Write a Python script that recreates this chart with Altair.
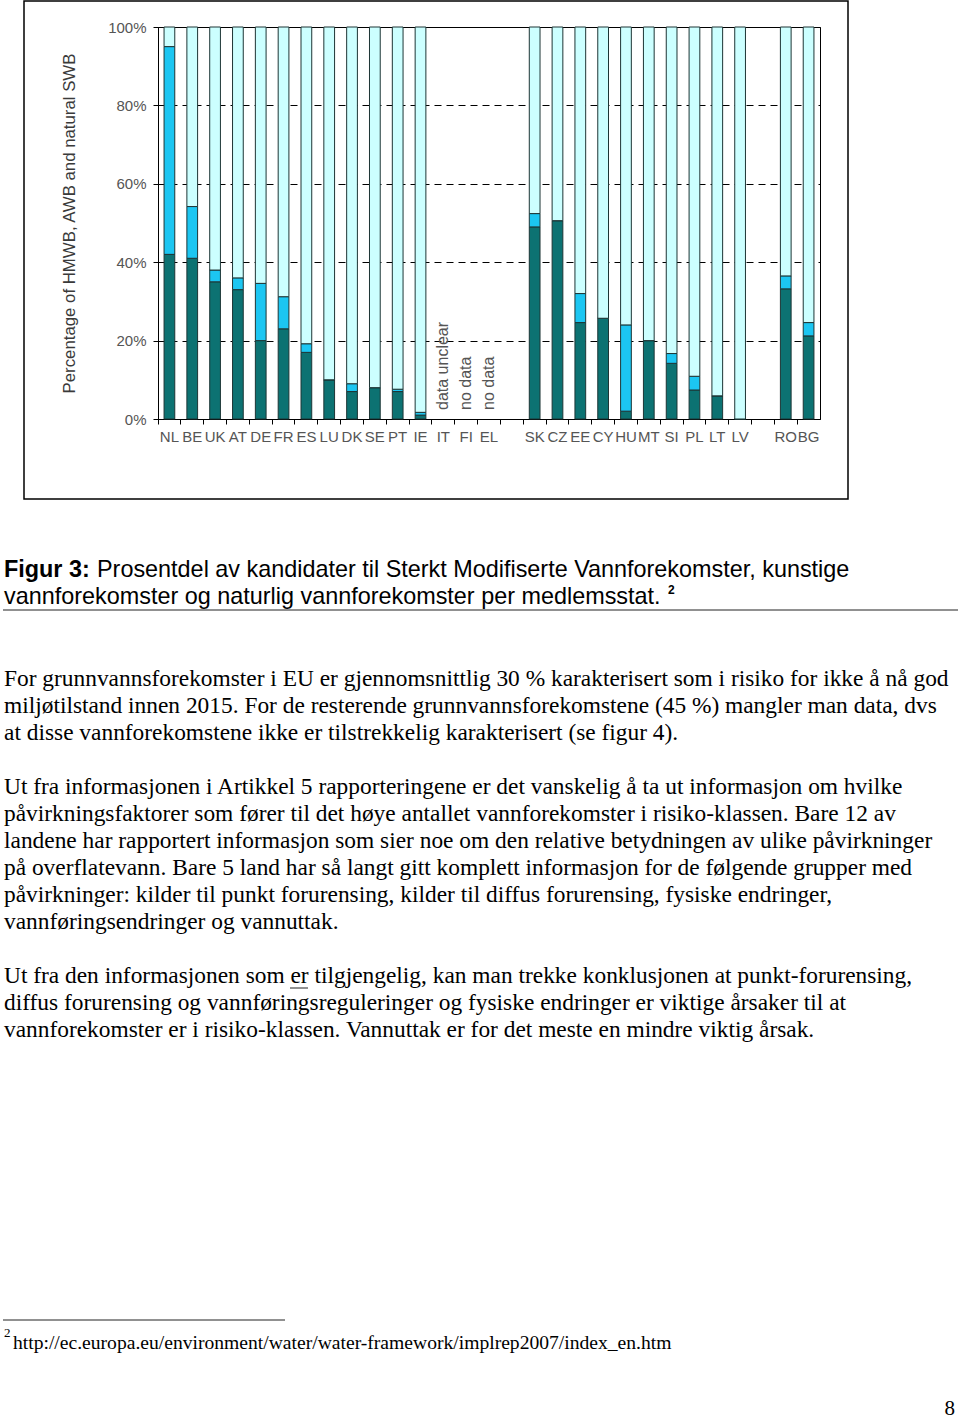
import altair as alt
import pandas as pd

# ---------------- data ----------------
countries = ["NL", "BE", "UK", "AT", "DE", "FR", "ES", "LU", "DK", "SE", "PT", "IE",
             "IT", "FI", "EL", "gap1",
             "SK", "CZ", "EE", "CY", "HU", "MT", "SI", "PL", "LT", "LV", "gap2",
             "RO", "BG"]
# None = no bar drawn
hmwb = [42, 41, 35, 33, 20, 23, 17, 10, 7, 8, 7, 1,
        None, None, None, None,
        49, 50.6, 24.6, 25.7, 2, 20, 14.2, 7.4, 5.9, 0, None,
        33.2, 21.2]
awb = [53, 13.2, 3, 3, 14.6, 8.2, 2.2, 0, 2, 0, 0.6, 0.7,
       None, None, None, None,
       3.4, 0, 7.4, 0, 22, 0, 2.5, 3.5, 0, 0, None,
       3.3, 3.4]
annot_countries = ["IT", "FI", "EL"]
annot_texts = ["data unclear", "no data", "no data"]

seg_names = ["HMWB", "AWB", "natural"]
seg_colors = ["#0c7272", "#1cc6f2", "#ccffff"]

rows = []
for c, h, a in zip(countries, hmwb, awb):
    if h is None:
        continue
    rows.append({"country": c, "seg": "HMWB", "order": 0, "value": h})
    rows.append({"country": c, "seg": "AWB", "order": 1, "value": a})
    rows.append({"country": c, "seg": "natural", "order": 2, "value": 100 - h - a})
bars_df = pd.DataFrame(rows)
annot_df = pd.DataFrame({"country": annot_countries, "text": annot_texts})

# ---------------- layout ----------------
L, T = 158, 27          # plot origin on the page
W, H = 662, 392         # plot area
PAGE_W, PAGE_H = 960, 1421

xscale = alt.Scale(domain=countries, paddingInner=0, paddingOuter=0)

bars = alt.Chart(bars_df).mark_bar(
    width=alt.RelativeBandSize(0.47), stroke="#1d3535", strokeWidth=1
).encode(
    x=alt.X("country:N", scale=xscale, sort=countries, title=None,
            axis=alt.Axis(labelAngle=0, bandPosition=0, tickSize=5, tickColor="black",
                          domainColor="black", labelColor="#555555", labelFontSize=15,
                          labelFont="Liberation Sans", labelPadding=5, grid=False,
                          labelExpr="indexof(datum.value, 'gap') == 0 ? '' : datum.value")),
    y=alt.Y("value:Q", stack="zero", scale=alt.Scale(domain=[0, 100], nice=False),
            title="Percentage of HMWB, AWB and natural SWB",
            axis=alt.Axis(values=[0, 20, 40, 60, 80, 100], labelExpr="datum.value + '%'",
                          tickSize=5, tickColor="black", domainColor="black",
                          labelColor="#555555", labelFontSize=15, labelFont="Liberation Sans",
                          labelPadding=7, grid=True, gridDash=[7, 5], gridColor="black",
                          gridOpacity=1, gridWidth=1, titleFont="Liberation Sans",
                          titleFontSize=16.8, titleFontWeight="normal", titleColor="#3a3a3a",
                          titlePadding=29)),
    color=alt.Color("seg:N", scale=alt.Scale(domain=seg_names, range=seg_colors), legend=None),
    order=alt.Order("order:Q"),
)

annots = alt.Chart(annot_df).mark_text(
    angle=270, align="left", baseline="middle", font="Liberation Sans",
    fontSize=16, color="#555555"
).encode(
    x=alt.X("country:N", scale=xscale, sort=countries),
    y=alt.value(410 - T),
    text="text:N",
)

one = pd.DataFrame({"a": [0]})

frame = alt.Chart(one).mark_rect(fill=None, stroke="black", strokeWidth=1.5).encode(
    x=alt.value(24 - L), x2=alt.value(848 - L), y=alt.value(1 - T), y2=alt.value(499 - T)
)


def txt(s, x, y, font="Liberation Serif", size=23.4, weight="normal", align="left",
        baseline="alphabetic"):
    return alt.Chart(one).mark_text(
        text=s, font=font, fontSize=size, fontWeight=weight, align=align,
        baseline=baseline, color="black"
    ).encode(x=alt.value(x - L), y=alt.value(y - T))


def hrule(x1, x2, y, w=1):
    return alt.Chart(one).mark_rule(color="#222222", strokeWidth=w).encode(
        x=alt.value(x1 - L), x2=alt.value(x2 - L), y=alt.value(y - T)
    )


layers = [frame, bars, annots]

# caption
CAP = 23.4
layers.append(txt("Figur 3:", 4, 577, font="Liberation Sans", size=CAP, weight="bold"))
layers.append(txt("Prosentdel av kandidater til Sterkt Modifiserte Vannforekomster, kunstige",
                  97, 577, font="Liberation Sans", size=CAP))
layers.append(txt("vannforekomster og naturlig vannforekomster per medlemsstat.", 4, 604,
                  font="Liberation Sans", size=CAP))
layers.append(txt("2", 668, 594, font="Liberation Sans", size=12, weight="bold"))
layers.append(hrule(3, 958, 610))

para_lines = [
    ("For grunnvannsforekomster i EU er gjennomsnittlig 30 % karakterisert som i risiko for ikke å nå god", 686),
    ("miljøtilstand innen 2015. For de resterende grunnvannsforekomstene (45 %) mangler man data, dvs", 713),
    ("at disse vannforekomstene ikke er tilstrekkelig karakterisert (se figur 4).", 740),
    ("Ut fra informasjonen i Artikkel 5 rapporteringene er det vanskelig å ta ut informasjon om hvilke", 794),
    ("påvirkningsfaktorer som fører til det høye antallet vannforekomster i risiko-klassen. Bare 12 av", 821),
    ("landene har rapportert informasjon som sier noe om den relative betydningen av ulike påvirkninger", 848),
    ("på overflatevann. Bare 5 land har så langt gitt komplett informasjon for de følgende grupper med", 875),
    ("påvirkninger: kilder til punkt forurensing, kilder til diffus forurensing, fysiske endringer,", 902),
    ("vannføringsendringer og vannuttak.", 929),
    ("Ut fra den informasjonen som er tilgjengelig, kan man trekke konklusjonen at punkt-forurensing,", 983),
    ("diffus forurensing og vannføringsreguleringer og fysiske endringer er viktige årsaker til at", 1010),
    ("vannforekomster er i risiko-klassen. Vannuttak er for det meste en mindre viktig årsak.", 1037),
]
for s, y in para_lines:
    layers.append(txt(s, 4, y))

# underline of "er"
layers.append(hrule(290, 308, 988))

# footnote
layers.append(hrule(3, 285, 1320))
layers.append(txt("2", 4, 1337, size=13))
layers.append(txt("http://ec.europa.eu/environment/water/water-framework/implrep2007/index_en.htm",
                  13, 1349, size=19.6))
layers.append(txt("8", 955, 1419, size=21, align="right", baseline="bottom"))

chart = alt.layer(*layers).properties(
    width=W, height=H,
    padding={"left": L, "top": T, "right": PAGE_W - L - W, "bottom": PAGE_H - T - H},
    autosize=alt.AutoSizeParams(type="none"),
    background="white",
).configure_view(stroke="black", strokeWidth=1)

chart.save("out.html", embed_options={"renderer": "svg", "actions": False})
